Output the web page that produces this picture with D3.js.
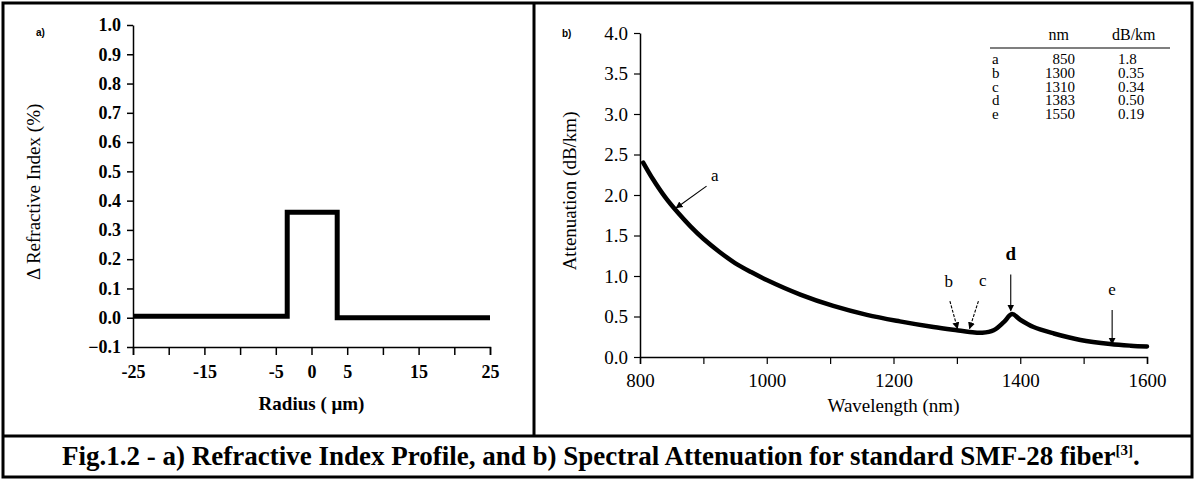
<!DOCTYPE html>
<html>
<head>
<meta charset="utf-8">
<script src="https://cdn.jsdelivr.net/npm/d3@7"></script>
<style>
  body { margin: 0; background: #fff; }
  svg { display: block; }
  svg text { font-family: "Liberation Serif", "Times New Roman", serif; fill: #000; }
  svg text.tag { font-family: "Liberation Sans", Arial, sans-serif; }
</style>
</head>
<body>
<div id="chart"></div>
<script>
// ---------- data ----------
// a) refractive index step profile (radius um, delta %)
const profileRadius = [-25, -3.4, -3.4, 3.6, 3.6, 25];
const profileDelta  = [0.005, 0.005, 0.36, 0.36, 0, 0];
const profileXTicks = [-25, -20, -15, -10, -5, 0, 5, 10, 15, 20, 25];
const profileXLabels = [-25, -15, -5, 0, 5, 15, 25];
const profileYTicks = [-0.1, 0, 0.1, 0.2, 0.3, 0.4, 0.5, 0.6, 0.7, 0.8, 0.9, 1.0];

// b) spectral attenuation (nm, dB/km)
const wavelength  = [805, 820, 840, 860, 880, 900, 925, 950, 975, 1000, 1053, 1105, 1158, 1210, 1263, 1300, 1320, 1340, 1358, 1374, 1387, 1400, 1421, 1453, 1495, 1542, 1574, 1600];
const attenuation = [2.40, 2.20, 1.97, 1.78, 1.61, 1.46, 1.30, 1.16, 1.05, 0.95, 0.77, 0.63, 0.52, 0.44, 0.37, 0.33, 0.31, 0.30, 0.33, 0.43, 0.53, 0.46, 0.37, 0.29, 0.21, 0.16, 0.14, 0.13];
const attXTicks = [800, 900, 1000, 1100, 1200, 1300, 1400, 1500, 1600];
const attXLabels = [800, 1000, 1200, 1400, 1600];
const attYTicks = [0, 0.5, 1.0, 1.5, 2.0, 2.5, 3.0, 3.5, 4.0];

// table in the corner
const tableKeys = ["a", "b", "c", "d", "e"];
const tableNm   = ["850", "1300", "1310", "1383", "1550"];
const tableDb   = ["1.8", "0.35", "0.34", "0.50", "0.19"];

// arrows: tail (nm, dB/km), head (nm, dB/km), label position
const arrowKeys  = ["a", "b", "c", "d", "e"];
const arrowTail  = [[905, 2.11], [1289, 0.69], [1334, 0.69], [1385, 1.02], [1545, 0.58]];
const arrowHead  = [[857, 1.84], [1301, 0.35], [1320, 0.35], [1385, 0.57], [1545, 0.16]];
const arrowLabel = [[918, 2.17], [1287, 0.86], [1341, 0.88], [1385, 1.20], [1545, 0.76]];

const W = 1196, H = 480;
const svg = d3.select("#chart").append("svg").attr("width", W).attr("height", H);

// frames
const frame = svg.append("g").attr("fill", "none").attr("stroke", "#000").attr("stroke-width", 3);
frame.append("rect").attr("x", 3).attr("y", 3).attr("width", 1189).attr("height", 474);
frame.append("line").attr("x1", 534).attr("x2", 534).attr("y1", 3).attr("y2", 436);
frame.append("line").attr("x1", 3).attr("x2", 1192).attr("y1", 436).attr("y2", 436);

//style helper for the axes
function styleAxis(g, size, weight, tickW) {
  g.attr("font-family", null).attr("font-size", size).attr("font-weight", weight);
  g.select(".domain").attr("stroke-width", 1.5);
  g.selectAll(".tick line").attr("stroke-width", tickW);
}

////////////////////////////////////////////////////////
///////////////// a) refractive index //////////////////
////////////////////////////////////////////////////////
const xa = d3.scaleLinear().domain([-25, 25]).range([133, 490]);
const ya = d3.scaleLinear().domain([-0.1, 1.0]).range([347, 25]);
const ga = svg.append("g");

ga.append("g")
  .attr("transform", `translate(0,${ya(-0.1)})`)
  .call(d3.axisBottom(xa).tickValues(profileXTicks).tickSize(8).tickFormat(d => profileXLabels.includes(d) ? d : ""))
  .call(g => styleAxis(g, 18, "bold", 1.5))
  .call(g => g.selectAll(".tick text").attr("dy", "1.1em"));

ga.append("g")
  .attr("transform", `translate(${xa(-25)},0)`)
  .call(d3.axisLeft(ya).tickValues(profileYTicks).tickSize(6).tickSizeOuter(0).tickFormat(d3.format(".1f")))
  .call(g => styleAxis(g, 18, "bold", 1.5))
  .call(g => g.selectAll(".tick text").attr("x", -12));

ga.append("path")
  .datum(profileRadius.map((r, i) => [r, profileDelta[i]]))
  .attr("fill", "none").attr("stroke", "#000").attr("stroke-width", 5)
  .attr("stroke-linejoin", "miter")
  .attr("d", d3.line().x(d => xa(d[0])).y(d => ya(d[1])));

ga.append("text").attr("class", "tag").attr("x", 36).attr("y", 36).attr("font-size", 10).attr("font-weight", "bold").text("a)");
ga.append("text").attr("transform", `translate(40,${ya(0.43)}) rotate(-90)`)
  .attr("text-anchor", "middle").attr("font-size", 19).text("Δ Refractive Index (%)");
ga.append("text").attr("x", xa(0)).attr("y", 410).attr("text-anchor", "middle")
  .attr("font-size", 19).attr("font-weight", "bold").text("Radius ( μm)");

////////////////////////////////////////////////////////
//////////////// b) spectral attenuation ///////////////
////////////////////////////////////////////////////////
const xb = d3.scaleLinear().domain([800, 1600]).range([640, 1147]);
const yb = d3.scaleLinear().domain([0, 4]).range([357, 33]);
const gb = svg.append("g");

gb.append("g")
  .attr("transform", `translate(0,${yb(0)})`)
  .call(d3.axisBottom(xb).tickValues(attXTicks).tickSize(7).tickFormat(d => attXLabels.includes(d) ? d : ""))
  .call(g => styleAxis(g, 19, "normal", 1.2))
  .call(g => g.selectAll(".tick text").attr("dy", "1.05em"));

gb.append("g")
  .attr("transform", `translate(${xb(800)},0)`)
  .call(d3.axisLeft(yb).tickValues(attYTicks).tickSize(6).tickSizeOuter(0).tickFormat(d3.format(".1f")))
  .call(g => styleAxis(g, 19, "normal", 1.2))
  .call(g => g.selectAll(".tick text").attr("x", -12));

gb.append("path")
  .datum(wavelength.map((w, i) => [w, attenuation[i]]))
  .attr("fill", "none").attr("stroke", "#000").attr("stroke-width", 4.5)
  .attr("stroke-linecap", "round")
  .attr("d", d3.line().x(d => xb(d[0])).y(d => yb(d[1])).curve(d3.curveCatmullRom.alpha(0.5)));

// arrows
const defs = svg.append("defs");
defs.append("marker").attr("id", "head").attr("viewBox", "0 0 10 10")
  .attr("refX", 9).attr("refY", 5).attr("markerWidth", 7).attr("markerHeight", 8)
  .attr("markerUnits", "userSpaceOnUse").attr("orient", "auto")
  .append("path").attr("d", "M0,0 L10,5 L0,10 z").attr("fill", "#000");

arrowKeys.forEach((k, i) => {
  gb.append("line")
    .attr("x1", xb(arrowTail[i][0])).attr("y1", yb(arrowTail[i][1]))
    .attr("x2", xb(arrowHead[i][0])).attr("y2", yb(arrowHead[i][1]))
    .attr("stroke", "#000").attr("stroke-width", 1.1)
    .attr("stroke-dasharray", (k === "b" || k === "c") ? "3,1.5" : null)
    .attr("marker-end", "url(#head)");
  gb.append("text")
    .attr("x", xb(arrowLabel[i][0])).attr("y", yb(arrowLabel[i][1]))
    .attr("text-anchor", "middle").attr("font-size", k === "d" ? 19 : 17)
    .attr("font-weight", k === "d" ? "bold" : "normal")
    .text(k);
});

// table
const rowY = d3.scaleLinear().domain([0, 4]).range([64, 119]);
gb.append("text").attr("x", 1069).attr("y", 40).attr("text-anchor", "end").attr("font-size", 16).text("nm");
gb.append("text").attr("x", 1112).attr("y", 40).attr("font-size", 16).text("dB/km");
gb.append("line").attr("x1", 990).attr("x2", 1170).attr("y1", 48).attr("y2", 48)
  .attr("stroke", "#000").attr("stroke-width", 1.2);
tableKeys.forEach((k, i) => {
  gb.append("text").attr("x", 992).attr("y", rowY(i)).attr("font-size", 15).text(k);
  gb.append("text").attr("x", 1075).attr("y", rowY(i)).attr("text-anchor", "end").attr("font-size", 15).text(tableNm[i]);
  gb.append("text").attr("x", 1118).attr("y", rowY(i)).attr("font-size", 15).text(tableDb[i]);
});

gb.append("text").attr("class", "tag").attr("x", 562).attr("y", 37).attr("font-size", 10).attr("font-weight", "bold").text("b)");
gb.append("text").attr("transform", `translate(576,${yb(2.05)}) rotate(-90)`)
  .attr("text-anchor", "middle").attr("font-size", 19).text("Attenuation (dB/km)");
gb.append("text").attr("x", xb(1200)).attr("y", 412).attr("text-anchor", "middle")
  .attr("font-size", 19).text("Wavelength (nm)");

// caption, squeezed to the width the scan shows
const cap = svg.append("text").attr("x", 0).attr("y", 0).attr("text-anchor", "start")
  .attr("font-size", 27).attr("font-weight", "bold");
cap.append("tspan").text("Fig.1.2 - a) Refractive Index Profile, and b) Spectral Attenuation for standard SMF-28 fiber");
cap.append("tspan").attr("font-size", 15).attr("dy", -10).text("[3]");
cap.append("tspan").attr("dy", 10).text(".");
const capW = cap.node().getBBox().width;
cap.attr("transform", `translate(62,465) scale(${1078 / capW},1)`);
</script>
</body>
</html>
